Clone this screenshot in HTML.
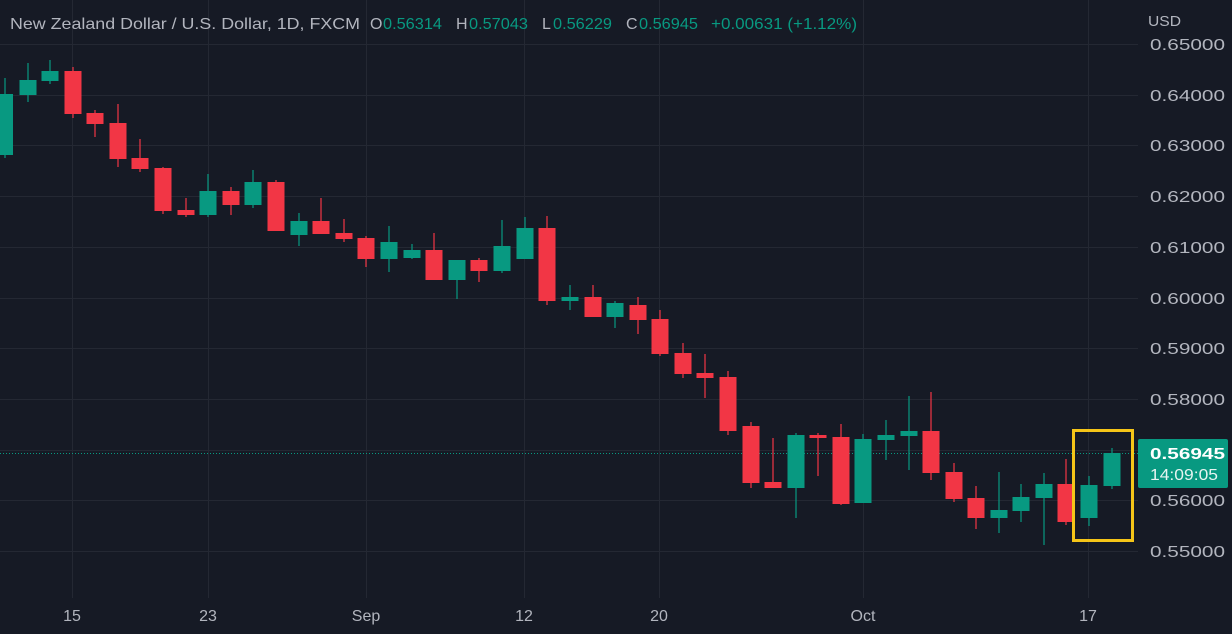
<!DOCTYPE html>
<html><head><meta charset="utf-8"><style>
html,body{margin:0;padding:0;background:#161a25;width:1232px;height:634px;overflow:hidden}
svg{display:block}
text{font-family:"Liberation Sans",sans-serif}
</style></head><body>
<svg width="1232" height="634" viewBox="0 0 1232 634">
<rect width="1232" height="634" fill="#161a25"/>
<g stroke="#242833" stroke-width="1">
<line x1="0" y1="44.5" x2="1138" y2="44.5"/><line x1="0" y1="95.5" x2="1138" y2="95.5"/><line x1="0" y1="145.5" x2="1138" y2="145.5"/><line x1="0" y1="196.5" x2="1138" y2="196.5"/><line x1="0" y1="247.5" x2="1138" y2="247.5"/><line x1="0" y1="298.5" x2="1138" y2="298.5"/><line x1="0" y1="348.5" x2="1138" y2="348.5"/><line x1="0" y1="399.5" x2="1138" y2="399.5"/><line x1="0" y1="450.5" x2="1138" y2="450.5"/><line x1="0" y1="500.5" x2="1138" y2="500.5"/><line x1="0" y1="551.5" x2="1138" y2="551.5"/>
<line x1="72.5" y1="0" x2="72.5" y2="598"/><line x1="208.5" y1="0" x2="208.5" y2="598"/><line x1="366.5" y1="0" x2="366.5" y2="598"/><line x1="524.5" y1="0" x2="524.5" y2="598"/><line x1="659.5" y1="0" x2="659.5" y2="598"/><line x1="863.5" y1="0" x2="863.5" y2="598"/><line x1="1088.5" y1="0" x2="1088.5" y2="598"/>
</g>
<line x1="0" y1="453.5" x2="1138" y2="453.5" stroke="#089981" stroke-width="1" stroke-dasharray="1,2"/>
<g fill="#089981" stroke="#089981" stroke-width="1.2">
<line x1="5" y1="78" x2="5" y2="158"/><rect x="-4" y="94" width="17" height="61" stroke="none"/>
<line x1="28" y1="63" x2="28" y2="102"/><rect x="19.5" y="80" width="17" height="15" stroke="none"/>
<line x1="50" y1="60" x2="50" y2="84"/><rect x="41.5" y="71" width="17" height="10" stroke="none"/>
<line x1="208" y1="174" x2="208" y2="217"/><rect x="199.5" y="191" width="17" height="24" stroke="none"/>
<line x1="253" y1="170" x2="253" y2="208"/><rect x="244.5" y="182" width="17" height="23" stroke="none"/>
<line x1="299" y1="213" x2="299" y2="246"/><rect x="290.5" y="221" width="17" height="14" stroke="none"/>
<line x1="389" y1="226" x2="389" y2="272"/><rect x="380.5" y="242" width="17" height="17" stroke="none"/>
<line x1="412" y1="244" x2="412" y2="259"/><rect x="403.5" y="250" width="17" height="8" stroke="none"/>
<line x1="457" y1="260" x2="457" y2="299"/><rect x="448.5" y="260" width="17" height="20" stroke="none"/>
<line x1="502" y1="220" x2="502" y2="273"/><rect x="493.5" y="246" width="17" height="25" stroke="none"/>
<line x1="525" y1="217" x2="525" y2="259"/><rect x="516.5" y="228" width="17" height="31" stroke="none"/>
<line x1="570" y1="285" x2="570" y2="310"/><rect x="561.5" y="297" width="17" height="4" stroke="none"/>
<line x1="615" y1="301" x2="615" y2="328"/><rect x="606.5" y="303" width="17" height="14" stroke="none"/>
<line x1="796" y1="433" x2="796" y2="518"/><rect x="787.5" y="435" width="17" height="53" stroke="none"/>
<line x1="863" y1="434" x2="863" y2="503"/><rect x="854.5" y="439" width="17" height="64" stroke="none"/>
<line x1="886" y1="420" x2="886" y2="460"/><rect x="877.5" y="435" width="17" height="5" stroke="none"/>
<line x1="909" y1="396" x2="909" y2="470"/><rect x="900.5" y="431" width="17" height="5" stroke="none"/>
<line x1="999" y1="472" x2="999" y2="533"/><rect x="990.5" y="510" width="17" height="8" stroke="none"/>
<line x1="1021" y1="484" x2="1021" y2="522"/><rect x="1012.5" y="497" width="17" height="14" stroke="none"/>
<line x1="1044" y1="473" x2="1044" y2="545"/><rect x="1035.5" y="484" width="17" height="14" stroke="none"/>
<line x1="1089" y1="476" x2="1089" y2="526"/><rect x="1080.5" y="485" width="17" height="33" stroke="none"/>
<line x1="1112" y1="448" x2="1112" y2="489"/><rect x="1103.5" y="453" width="17" height="33" stroke="none"/>
</g>
<g fill="#f23645" stroke="#f23645" stroke-width="1.2">
<line x1="73" y1="67" x2="73" y2="118"/><rect x="64.5" y="71" width="17" height="43" stroke="none"/>
<line x1="95" y1="110" x2="95" y2="137"/><rect x="86.5" y="113" width="17" height="11" stroke="none"/>
<line x1="118" y1="104" x2="118" y2="167"/><rect x="109.5" y="123" width="17" height="36" stroke="none"/>
<line x1="140" y1="139" x2="140" y2="172"/><rect x="131.5" y="158" width="17" height="11" stroke="none"/>
<line x1="163" y1="167" x2="163" y2="214"/><rect x="154.5" y="168" width="17" height="43" stroke="none"/>
<line x1="186" y1="198" x2="186" y2="217"/><rect x="177.5" y="210" width="17" height="5" stroke="none"/>
<line x1="231" y1="187" x2="231" y2="215"/><rect x="222.5" y="191" width="17" height="14" stroke="none"/>
<line x1="276" y1="180" x2="276" y2="231"/><rect x="267.5" y="182" width="17" height="49" stroke="none"/>
<line x1="321" y1="198" x2="321" y2="234"/><rect x="312.5" y="221" width="17" height="13" stroke="none"/>
<line x1="344" y1="219" x2="344" y2="242"/><rect x="335.5" y="233" width="17" height="6" stroke="none"/>
<line x1="366" y1="236" x2="366" y2="267"/><rect x="357.5" y="238" width="17" height="21" stroke="none"/>
<line x1="434" y1="233" x2="434" y2="280"/><rect x="425.5" y="250" width="17" height="30" stroke="none"/>
<line x1="479" y1="258" x2="479" y2="282"/><rect x="470.5" y="260" width="17" height="11" stroke="none"/>
<line x1="547" y1="216" x2="547" y2="305"/><rect x="538.5" y="228" width="17" height="73" stroke="none"/>
<line x1="593" y1="285" x2="593" y2="317"/><rect x="584.5" y="297" width="17" height="20" stroke="none"/>
<line x1="638" y1="297" x2="638" y2="334"/><rect x="629.5" y="305" width="17" height="15" stroke="none"/>
<line x1="660" y1="310" x2="660" y2="356"/><rect x="651.5" y="319" width="17" height="35" stroke="none"/>
<line x1="683" y1="343" x2="683" y2="378"/><rect x="674.5" y="353" width="17" height="21" stroke="none"/>
<line x1="705" y1="354" x2="705" y2="398"/><rect x="696.5" y="373" width="17" height="5" stroke="none"/>
<line x1="728" y1="371" x2="728" y2="435"/><rect x="719.5" y="377" width="17" height="54" stroke="none"/>
<line x1="751" y1="422" x2="751" y2="488"/><rect x="742.5" y="426" width="17" height="57" stroke="none"/>
<line x1="773" y1="438" x2="773" y2="488"/><rect x="764.5" y="482" width="17" height="6" stroke="none"/>
<line x1="818" y1="433" x2="818" y2="476"/><rect x="809.5" y="435" width="17" height="3" stroke="none"/>
<line x1="841" y1="424" x2="841" y2="505"/><rect x="832.5" y="437" width="17" height="67" stroke="none"/>
<line x1="931" y1="392" x2="931" y2="480"/><rect x="922.5" y="431" width="17" height="42" stroke="none"/>
<line x1="954" y1="463" x2="954" y2="502"/><rect x="945.5" y="472" width="17" height="27" stroke="none"/>
<line x1="976" y1="486" x2="976" y2="529"/><rect x="967.5" y="498" width="17" height="20" stroke="none"/>
<line x1="1066" y1="459" x2="1066" y2="525"/><rect x="1057.5" y="484" width="17" height="38" stroke="none"/>
</g>
<rect x="1073.5" y="430.5" width="59" height="110" fill="none" stroke="#f5c518" stroke-width="3"/>
<g fill="#b2b5be" font-size="16">
<text x="1148" y="26" font-size="15" textLength="33" lengthAdjust="spacingAndGlyphs">USD</text>
<text x="1150" y="50" textLength="75" lengthAdjust="spacingAndGlyphs">0.65000</text>
<text x="1150" y="101" textLength="75" lengthAdjust="spacingAndGlyphs">0.64000</text>
<text x="1150" y="151" textLength="75" lengthAdjust="spacingAndGlyphs">0.63000</text>
<text x="1150" y="202" textLength="75" lengthAdjust="spacingAndGlyphs">0.62000</text>
<text x="1150" y="253" textLength="75" lengthAdjust="spacingAndGlyphs">0.61000</text>
<text x="1150" y="304" textLength="75" lengthAdjust="spacingAndGlyphs">0.60000</text>
<text x="1150" y="354" textLength="75" lengthAdjust="spacingAndGlyphs">0.59000</text>
<text x="1150" y="405" textLength="75" lengthAdjust="spacingAndGlyphs">0.58000</text>
<text x="1150" y="506" textLength="75" lengthAdjust="spacingAndGlyphs">0.56000</text>
<text x="1150" y="557" textLength="75" lengthAdjust="spacingAndGlyphs">0.55000</text>
</g>
<rect x="1138" y="439" width="90" height="49" rx="2" fill="#089981"/>
<text x="1150" y="459" fill="#fff" font-size="16" font-weight="bold" textLength="75" lengthAdjust="spacingAndGlyphs">0.56945</text>
<text x="1150" y="480" fill="#e6f4f1" font-size="16" textLength="68" lengthAdjust="spacingAndGlyphs">14:09:05</text>
<g fill="#b2b5be" font-size="16" text-anchor="middle">
<text x="72" y="621">15</text><text x="208" y="621">23</text><text x="366" y="621">Sep</text><text x="524" y="621">12</text><text x="659" y="621">20</text><text x="863" y="621">Oct</text><text x="1088" y="621">17</text>
</g>
<g font-size="16">
<text x="10" y="29" fill="#b2b5be" textLength="350" lengthAdjust="spacingAndGlyphs">New Zealand Dollar / U.S. Dollar, 1D, FXCM</text>
<text x="370" y="29" fill="#b2b5be">O</text><text x="383" y="29" fill="#089981" textLength="59" lengthAdjust="spacingAndGlyphs">0.56314</text>
<text x="456" y="29" fill="#b2b5be">H</text><text x="469" y="29" fill="#089981" textLength="59" lengthAdjust="spacingAndGlyphs">0.57043</text>
<text x="542" y="29" fill="#b2b5be">L</text><text x="553" y="29" fill="#089981" textLength="59" lengthAdjust="spacingAndGlyphs">0.56229</text>
<text x="626" y="29" fill="#b2b5be">C</text><text x="639" y="29" fill="#089981" textLength="59" lengthAdjust="spacingAndGlyphs">0.56945</text>
<text x="711" y="29" fill="#089981" textLength="146" lengthAdjust="spacingAndGlyphs">+0.00631 (+1.12%)</text>
</g>
</svg>
</body></html>
